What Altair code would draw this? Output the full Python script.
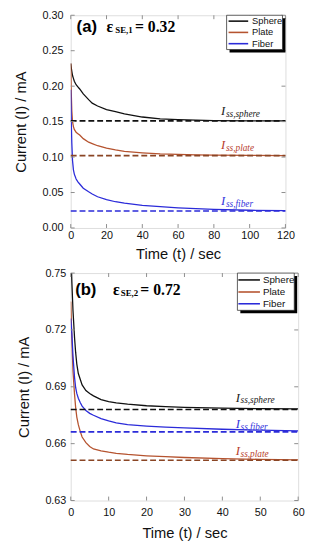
import altair as alt
import pandas as pd

SERIES = ["Sphere", "Plate", "Fiber"]
CURVE_COLORS = ["#111111", "#b5532f", "#2b2bd9"]
DASH_COLORS = ["#111111", "#8a4524", "#2b2bd9"]
LABEL_COLORS = ["#222222", "#b8402e", "#3535dd"]
FRAME = "#8c8c8c"

# ---------- panel (a) ----------
t_a = [0, 0.3, 0.6, 1, 1.5, 2, 3, 4, 5, 7, 10, 12, 15, 20, 25, 30, 40, 50, 60, 70, 80, 100, 120]
sphere_a = [0.232, 0.226, 0.221, 0.215, 0.211, 0.207, 0.202, 0.199, 0.196, 0.189, 0.181, 0.176, 0.172,
            0.167, 0.164, 0.161, 0.1565, 0.154, 0.1528, 0.152, 0.1515, 0.1512, 0.151]
plate_a = [0.232, 0.190, 0.165, 0.150, 0.143, 0.139, 0.135, 0.133, 0.131, 0.126, 0.121, 0.119, 0.116,
           0.1125, 0.110, 0.108, 0.106, 0.1045, 0.1037, 0.1031, 0.1027, 0.1023, 0.102]
fiber_a = [0.195, 0.150, 0.120, 0.095, 0.082, 0.076, 0.069, 0.065, 0.062, 0.056, 0.051, 0.048, 0.044,
           0.040, 0.037, 0.035, 0.032, 0.030, 0.0285, 0.0272, 0.0262, 0.0250, 0.0244]
ss_a = [0.151, 0.102, 0.024]
lab_t_a = 84.0
lab_y_a = [0.1647, 0.1166, 0.0385]
xticks_a = [0, 20, 40, 60, 80, 100, 120]
yticks_a = [0.00, 0.05, 0.10, 0.15, 0.20, 0.25, 0.30]
panel_a = ["(a)", "ε", "SE,1", "= 0.32"]

# ---------- panel (b) ----------
t_b = [0, 0.3, 0.6, 1, 1.3, 1.6, 2, 2.5, 3, 4, 5, 6, 8, 10, 12, 15, 20, 25, 30, 40, 50, 60]
sphere_b = [0.765, 0.745, 0.730, 0.716, 0.708, 0.702, 0.697, 0.694, 0.691, 0.688, 0.6865, 0.6852, 0.6832,
            0.6822, 0.6815, 0.6808, 0.6800, 0.6795, 0.6791, 0.6787, 0.6785, 0.6783]
plate_b = [0.735, 0.715, 0.698, 0.686, 0.679, 0.674, 0.670, 0.6665, 0.6635, 0.6605, 0.6585, 0.6572, 0.6562,
           0.6555, 0.6549, 0.6543, 0.6536, 0.6531, 0.6527, 0.6521, 0.6517, 0.6514]
fiber_b = [0.726, 0.718, 0.706, 0.695, 0.6895, 0.6865, 0.684, 0.6817, 0.6798, 0.6775, 0.676, 0.675, 0.6732,
           0.672, 0.671, 0.670, 0.6693, 0.6687, 0.6683, 0.6676, 0.6671, 0.6667]
ss_b = [0.678, 0.6512, 0.6662]
lab_t_b = 43.5
lab_y_b = [0.6843, 0.6559, 0.6705]
xticks_b = [0, 10, 20, 30, 40, 50, 60]
yticks_b = [0.63, 0.66, 0.69, 0.72, 0.75]
panel_b = ["(b)", "ε", "SE,2", "= 0.72"]

SUBS = ["ss,sphere", "ss,plate", "ss,fiber"]


def one(s):
    return pd.DataFrame({"s": [s]})


def panel(t, curves, ss, lab_t, lab_y, xticks, yticks, texts, W, H, pos, leg,
          xlab_pad, xtitle_pad, ylab_pad, ytitle_pad):
    xdom = [xticks[0], xticks[-1]]
    ydom = [yticks[0], yticks[-1]]
    xs = alt.Scale(domain=xdom, nice=False, zero=False)
    ys = alt.Scale(domain=ydom, nice=False, zero=False)
    common = dict(grid=False, ticks=False, tickSize=0, domain=False, labelFont="Liberation Sans",
                  labelFontSize=11, labelColor="#111111", titleFont="Liberation Sans", titleFontSize=15,
                  titleFontWeight="normal", titleColor="#111111")
    xaxis = alt.Axis(values=xticks, format="d", title="Time (t) / sec", labelFlush=False,
                     labelPadding=xlab_pad, titlePadding=xtitle_pad, **common)
    yaxis = alt.Axis(values=yticks, format=".2f", title="Current (I) / mA",
                     labelPadding=ylab_pad, titlePadding=ytitle_pad, **common)
    X = lambda f: alt.X(f, scale=xs, axis=xaxis)
    Y = lambda f: alt.Y(f, scale=ys, axis=yaxis)

    df = pd.DataFrame({
        "t": list(t) * 3,
        "I": list(curves[0]) + list(curves[1]) + list(curves[2]),
        "series": [s for s in SERIES for _ in t],
    })
    lines = alt.Chart(df).mark_line(clip=True, strokeWidth=1.3).encode(
        x=X("t:Q"), y=Y("I:Q"),
        color=alt.Color("series:N", scale=alt.Scale(domain=SERIES, range=CURVE_COLORS), legend=None),
    )

    dss = pd.DataFrame({"t0": [xdom[0]] * 3, "t1": [xdom[1]] * 3, "I": ss, "series": SERIES})
    dashed = alt.Chart(dss).mark_rule(strokeDash=[6, 3], strokeWidth=1.6).encode(
        x=X("t0:Q"), x2="t1:Q", y=Y("I:Q"),
        color=alt.Color("series:N", scale=alt.Scale(domain=SERIES, range=DASH_COLORS), legend=None),
    )

    dx = pd.DataFrame({"v": xticks})
    dy = pd.DataFrame({"v": yticks})
    tb = alt.Chart(dx).mark_rule(color=FRAME).encode(x=X("v:Q"), y=alt.value(H), y2=alt.value(H - 4))
    tt = alt.Chart(dx).mark_rule(color=FRAME).encode(x=X("v:Q"), y=alt.value(0), y2=alt.value(4))
    tl = alt.Chart(dy).mark_rule(color=FRAME).encode(y=Y("v:Q"), x=alt.value(0), x2=alt.value(4))
    tr = alt.Chart(dy).mark_rule(color=FRAME).encode(y=Y("v:Q"), x=alt.value(W - 4), x2=alt.value(W))

    dl = pd.DataFrame({"t": [lab_t] * 3, "I": lab_y, "sub": SUBS, "series": SERIES})
    lab_scale = alt.Scale(domain=SERIES, range=LABEL_COLORS)
    big_i = alt.Chart(dl).mark_text(text="I", font="Liberation Serif", fontStyle="italic", fontSize=13,
                                    align="left", baseline="middle").encode(
        x=X("t:Q"), y=Y("I:Q"), color=alt.Color("series:N", scale=lab_scale, legend=None))
    sub_i = alt.Chart(dl).mark_text(font="Liberation Serif", fontStyle="italic", fontSize=9.5,
                                    align="left", baseline="middle", dx=5, dy=3).encode(
        x=X("t:Q"), y=Y("I:Q"), text="sub:N", color=alt.Color("series:N", scale=lab_scale, legend=None))

    # panel label
    fonts = [("Liberation Sans", 17), ("Liberation Serif", 16), ("Liberation Serif", 9), ("Liberation Serif", 16)]
    tx = []
    for (x0, y0), s, (fnt, fs) in zip(pos, texts, fonts):
        tx.append(alt.Chart(one(s)).mark_text(font=fnt, fontWeight="bold", fontSize=fs, align="left",
                                              baseline="middle", color="black").encode(
            text="s:N", x=alt.value(x0), y=alt.value(y0)))

    # legend box with drop shadow
    bx0, bx1, by1, sh, ys_, lx0, lx1, tx0, lfs = leg
    lg = [
        alt.Chart(one("shadow")).mark_rect(color="black").encode(
            x=alt.value(bx0 + sh), x2=alt.value(bx1 + sh), y=alt.value(sh), y2=alt.value(by1 + sh)),
        alt.Chart(one("box")).mark_rect(fill="white", stroke="#333333", strokeWidth=0.8).encode(
            x=alt.value(bx0), x2=alt.value(bx1), y=alt.value(0), y2=alt.value(by1)),
    ]
    for s, c, yy in zip(SERIES, CURVE_COLORS, ys_):
        lg.append(alt.Chart(one(s)).mark_rule(color=c, strokeWidth=1.6).encode(
            x=alt.value(lx0), x2=alt.value(lx1), y=alt.value(yy)))
        lg.append(alt.Chart(one(s)).mark_text(font="Liberation Sans", fontSize=lfs, align="left",
                                              baseline="middle", color="#111111").encode(
            text="s:N", x=alt.value(tx0), y=alt.value(yy)))

    return alt.layer(lines, dashed, tb, tt, tl, tr, big_i, sub_i, *tx, *lg).resolve_scale(
        color="independent").properties(width=W, height=H)


WA, HA = 219, 217
WB, HB = 232, 232
top = panel(t_a, [sphere_a, plate_a, fiber_a], ss_a, lab_t_a, lab_y_a, xticks_a, yticks_a, panel_a,
            WA, HA, [(6, 12), (36.5, 12), (45.5, 15.5), (65.5, 12)],
            (WA - 60, WA - 3, 35, 3, [6, 17.5, 29], WA - 58, WA - 38, WA - 34, 9.5),
            1.5, 7, 8, 13.5)
bottom = panel(t_b, [sphere_b, plate_b, fiber_b], ss_b, lab_t_b, lab_y_b, xticks_b, yticks_b, panel_b,
               WB, HB, [(4.5, 17), (43, 17), (51, 20.5), (71, 17)],
               (WB - 62, WB - 4, 38, 3, [7, 19.3, 31.3], WB - 61, WB - 39, WB - 36, 10),
               6.5, 8, 5, 13.5)

chart = alt.vconcat(top, bottom, spacing=4).properties(
    padding={"left": 5, "top": -5, "right": 2, "bottom": 0}
).configure_view(stroke=FRAME, strokeWidth=1).configure(background="white")

chart.save("out.html", embed_options={"renderer": "svg", "actions": False})
